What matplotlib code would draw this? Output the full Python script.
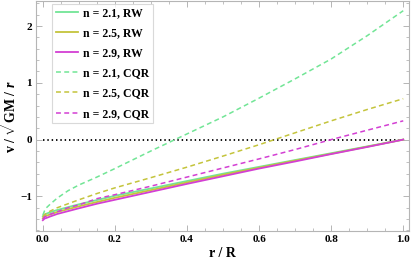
import matplotlib
matplotlib.use("Agg")
import matplotlib.pyplot as plt
from matplotlib.ticker import MultipleLocator

plt.rcParams['font.family'] = ['Liberation Serif', 'DejaVu Serif']
plt.rcParams['font.weight'] = 'bold'
plt.rcParams['mathtext.fontset'] = 'custom'
plt.rcParams['mathtext.rm'] = 'Liberation Serif:bold'
plt.rcParams['mathtext.it'] = 'Liberation Serif:italic:bold'
plt.rcParams['mathtext.bf'] = 'Liberation Serif:bold'

r = [0.0, 0.005, 0.01, 0.02, 0.04, 0.07, 0.1, 0.15, 0.2, 0.3, 0.4, 0.5, 0.6, 0.7, 0.8, 0.9, 1.0]

rw_21 = [-1.35, -1.32, -1.305, -1.28, -1.24, -1.19, -1.14, -1.065, -0.99, -0.86, -0.73, -0.60, -0.48, -0.36, -0.24, -0.12, 0.0]
rw_25 = [-1.385, -1.355, -1.34, -1.32, -1.275, -1.225, -1.175, -1.10, -1.025, -0.89, -0.755, -0.62, -0.495, -0.37, -0.25, -0.125, 0.0]
rw_29 = [-1.42, -1.39, -1.38, -1.355, -1.31, -1.26, -1.21, -1.13, -1.06, -0.92, -0.78, -0.645, -0.51, -0.385, -0.255, -0.13, 0.0]

cqr_21 = [-1.33, -1.25, -1.20, -1.14, -1.03, -0.90, -0.80, -0.66, -0.51, -0.20, 0.10, 0.40, 0.73, 1.07, 1.42, 1.83, 2.27]
cqr_25 = [-1.36, -1.32, -1.30, -1.26, -1.20, -1.13, -1.06, -0.95, -0.85, -0.67, -0.485, -0.29, -0.09, 0.12, 0.33, 0.53, 0.72]
cqr_29 = [-1.40, -1.36, -1.345, -1.315, -1.27, -1.20, -1.15, -1.04, -0.97, -0.82, -0.66, -0.50, -0.34, -0.175, 0.0, 0.165, 0.33]

labels = ['n = 2.1, RW', 'n = 2.5, RW', 'n = 2.9, RW',
          'n = 2.1, CQR', 'n = 2.5, CQR', 'n = 2.9, CQR']
colors = ['#72e596', '#c4c43c', '#d33fd3']

fig = plt.figure(figsize=(4.11, 2.64), dpi=100)
ax = fig.add_axes([36/411, 33/264, 373/411, 230.5/264])

ax.plot([0, 1], [0, 0], color='black', lw=1.3, ls=(0, (0.8, 1.6)), zorder=1)

for y, c, lab in zip([rw_21, rw_25, rw_29], colors, labels[:3]):
    ax.plot(r, y, color=c, lw=1.3, label=lab, zorder=2)
for y, c, lab in zip([cqr_21, cqr_25, cqr_29], colors, labels[3:]):
    ax.plot(r, y, color=c, lw=1.1, ls=(0, (3.2, 2.2)), label=lab, zorder=3)

ax.set_xlim(-0.019, 1.016)
ax.set_ylim(-1.61, 2.45)

ax.xaxis.set_major_locator(MultipleLocator(0.2))
ax.xaxis.set_minor_locator(MultipleLocator(0.05))
ax.yaxis.set_major_locator(MultipleLocator(1))
ax.yaxis.set_minor_locator(MultipleLocator(0.2))
ax.xaxis.set_major_formatter(matplotlib.ticker.FormatStrFormatter('%.1f'))
ax.yaxis.set_major_formatter(matplotlib.ticker.FuncFormatter(
    lambda v, p: ('\u2212%d' % abs(v)) if v < 0 else '%d' % v))

for s in ax.spines.values():
    s.set_color('#b5b5b5')
    s.set_linewidth(0.8)
ax.tick_params(which='both', direction='in', top=True, right=True, color='#b5b5b5',
               labelsize=8, labelcolor='black', pad=3)
ax.tick_params(which='major', length=4, width=0.7)
ax.tick_params(which='minor', length=2, width=0.6)
for t in ax.get_xticklabels() + ax.get_yticklabels():
    t.set_fontweight('bold')

ax.set_xlabel('r / R', fontsize=10, fontweight='bold', labelpad=2)
ax.set_ylabel(r'v / $\sqrt{\mathrm{GM}\ /\ \mathit{r}}$', fontsize=10, fontweight='bold', labelpad=1)

leg = ax.legend(loc='upper left', bbox_to_anchor=(0.043, 0.985), borderaxespad=0,
                fontsize=8.5, frameon=True, fancybox=False, handlelength=1.9,
                handletextpad=0.45, labelspacing=0.68, borderpad=0.3)
leg.get_frame().set_edgecolor('#d0d0d0')
leg.get_frame().set_linewidth(0.8)
for t in leg.get_texts():
    t.set_fontweight('bold')

fig.savefig('out.png', dpi=100)
